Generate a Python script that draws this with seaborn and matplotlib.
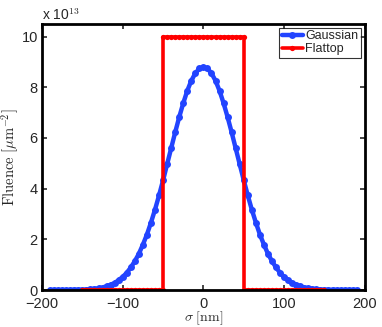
import matplotlib
matplotlib.use('Agg')
import matplotlib.pyplot as plt
import seaborn as sns
import numpy as np

# Gaussian profile, sampled every 5 nm (fluence in units of 1e13 um^-2)
gauss_x = list(range(-190, 195, 5))
gauss_half = [8.80, 8.74, 8.55, 8.26, 7.86, 7.37, 6.82, 6.22, 5.59, 4.96,
              4.33, 3.73, 3.17, 2.66, 2.19, 1.79, 1.43, 1.14, 0.89, 0.68,
              0.52, 0.39, 0.28, 0.21, 0.15, 0.10, 0.07, 0.05, 0.03, 0.02,
              0.01, 0.01, 0.01, 0.0, 0.0, 0.0, 0.0, 0.0, 0.0]
gauss_y = gauss_half[::-1] + gauss_half[1:]

# Flattop profile
flat_x = list(range(-150, -45, 5)) + list(range(-50, 55, 5)) + list(range(50, 155, 5))
flat_y = [0.0] * 21 + [10.0] * 21 + [0.0] * 21

x_ticks = [-200, -100, 0, 100, 200]
y_ticks = [0, 2, 4, 6, 8, 10]


def main():
  sns.set_style('white')
  plt.rcParams['font.family'] = ['Liberation Sans', 'DejaVu Sans']
  plt.rcParams['mathtext.fontset'] = 'cm'

  fig = plt.figure(figsize=(3.82, 3.27), dpi=100)
  ax = fig.add_axes([0.110, 0.113, 0.845, 0.814])

  sns.lineplot(x=gauss_x, y=gauss_y, sort=False, estimator=None, ax=ax,
               color='#2244ff', linewidth=3.2, marker='o', markersize=5,
               markeredgewidth=0, label='Gaussian')
  sns.lineplot(x=flat_x, y=flat_y, sort=False, estimator=None, ax=ax,
               color='#ff0000', linewidth=2.6, marker='o', markersize=3.8,
               markeredgewidth=0, label='Flattop')

  ax.set_xlim(-200, 200)
  ax.set_ylim(0, 10.5)
  ax.set_xticks(x_ticks)
  ax.set_yticks(y_ticks)
  ax.set_xticklabels([str(t).replace('-', '\u2212') for t in x_ticks])
  ax.tick_params(direction='in', length=3.5, width=1.2, labelsize=10.5,
                 top=True, right=True, bottom=True, left=True, pad=3)
  ax.tick_params(axis='x', pad=5)
  for s in ax.spines.values():
    s.set_linewidth(2)
    s.set_color('black')

  ax.set_xlabel(r'$\sigma\ [\mathrm{nm}]$', fontsize=10)
  ax.set_ylabel(r'$\mathrm{Fluence}\ [\mu\mathrm{m}^{-2}]$', fontsize=10.5)
  ax.xaxis.set_label_coords(0.5, -0.073)
  ax.yaxis.set_label_coords(-0.066, 0.5)
  ax.text(0.0, 1.005, r'x 10$^{13}$', transform=ax.transAxes, fontsize=10,
          ha='left', va='bottom')

  leg = ax.legend(loc='upper right', fontsize=9, frameon=True, fancybox=False,
                  borderpad=0.2, handlelength=1.7, handletextpad=0.2,
                  labelspacing=0.1, borderaxespad=0.3)
  leg.get_frame().set_edgecolor('black')
  leg.get_frame().set_linewidth(0.8)

  fig.savefig('out.png', dpi=100)


if __name__ == "__main__":
  main()
